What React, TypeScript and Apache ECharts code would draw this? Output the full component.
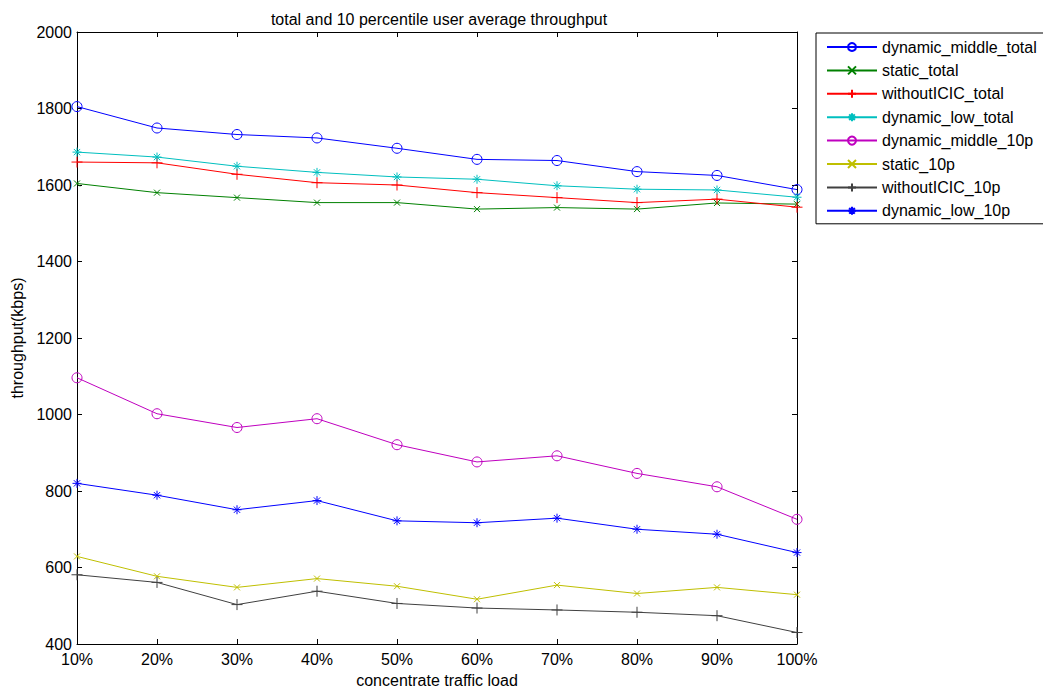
import React, { useEffect, useRef } from "react";
import * as echarts from "echarts";

const categories = ["10%", "20%", "30%", "40%", "50%", "60%", "70%", "80%", "90%", "100%"];

const dynamicMiddleTotal = [1805, 1749, 1732, 1723, 1696, 1667, 1664, 1635, 1625, 1588];
const staticTotal = [1604, 1580, 1567, 1554, 1554, 1537, 1541, 1537, 1553, 1550];
const withoutICICTotal = [1660, 1658, 1628, 1606, 1600, 1580, 1567, 1554, 1563, 1542];
const dynamicLowTotal = [1686, 1673, 1649, 1633, 1621, 1615, 1598, 1589, 1587, 1568];
const dynamicMiddle10p = [1096, 1002, 966, 989, 921, 876, 892, 846, 811, 726];
const static10p = [629, 577, 548, 571, 551, 517, 554, 532, 548, 529];
const withoutICIC10p = [581, 561, 503, 538, 506, 494, 489, 483, 474, 430];
const dynamicLow10p = [820, 789, 751, 775, 722, 717, 729, 700, 687, 639];

const seriesNames = [
  "dynamic_middle_total",
  "static_total",
  "withoutICIC_total",
  "dynamic_low_total",
  "dynamic_middle_10p",
  "static_10p",
  "withoutICIC_10p",
  "dynamic_low_10p",
];

const X_SYM = "path://M0,0L10,10M10,0L0,10";
const PLUS_SYM = "path://M5,0L5,10M0,5L10,5";
const STAR_SYM = "path://M5,0L5,10M0,5L10,5M1.5,1.5L8.5,8.5M8.5,1.5L1.5,8.5";

export default function App() {
  const ref = useRef<HTMLDivElement>(null);
  useEffect(() => {
    if (!ref.current) return;
    const chart = echarts.init(ref.current, undefined, { renderer: "svg" });
    const font = "Liberation Sans, Arial, sans-serif";
    const defs: [string, number[], string, string, number][] = [
      [seriesNames[0], dynamicMiddleTotal, "#0000ff", "circle", 10],
      [seriesNames[1], staticTotal, "#008000", X_SYM, 6],
      [seriesNames[2], withoutICICTotal, "#ff0000", PLUS_SYM, 11],
      [seriesNames[3], dynamicLowTotal, "#00bfbf", STAR_SYM, 9],
      [seriesNames[4], dynamicMiddle10p, "#bf00bf", "circle", 10],
      [seriesNames[5], static10p, "#bfbf00", X_SYM, 6],
      [seriesNames[6], withoutICIC10p, "#404040", PLUS_SYM, 11],
      [seriesNames[7], dynamicLow10p, "#0000ff", STAR_SYM, 9],
    ];
    const series = defs.map(([name, data, color, symbol, size]) => ({
      name,
      type: "line",
      data,
      symbol,
      symbolSize: size,
      showAllSymbol: true,
      color,
      lineStyle: { color, width: 1 },
      itemStyle: { color: "none", borderColor: color, borderWidth: 1 },
      emphasis: { disabled: true },
      z: 3,
    }));
    const axisLine = { show: true, lineStyle: { color: "#000", width: 1 } };
    chart.setOption({
      animation: false,
      backgroundColor: "#fff",
      textStyle: { fontFamily: font },
      title: {
        text: "total and 10 percentile user average throughput",
        left: 434,
        top: 6,
        textAlign: "center",
        textStyle: { fontSize: 16, fontWeight: "normal", color: "#000", fontFamily: font },
      },
      grid: { left: 77, top: 32, right: 246, bottom: 46 },
      legend: {
        orient: "vertical",
        left: 816,
        top: 33,
        padding: [6, 30, 5, 10],
        itemWidth: 50,
        itemHeight: 10,
        itemGap: 7.4,
        borderColor: "#000",
        borderWidth: 1,
        backgroundColor: "#fff",
        data: seriesNames,
        textStyle: { fontSize: 16, color: "#000", fontFamily: font, lineHeight: 16 },
      },
      xAxis: [
        {
          type: "category",
          data: categories,
          boundaryGap: false,
          axisLine,
          axisTick: { show: true, inside: true, length: 5, lineStyle: { color: "#000" } },
          axisLabel: { color: "#000", fontSize: 16, margin: 9, lineHeight: 12, fontFamily: font },
          splitLine: { show: false },
          name: "concentrate traffic load",
          nameLocation: "middle",
          nameGap: 28,
          nameTextStyle: { color: "#000", fontSize: 16, fontFamily: font },
        },
        {
          type: "category",
          data: categories,
          boundaryGap: false,
          position: "top",
          axisLine,
          axisTick: { show: true, inside: true, length: 5, lineStyle: { color: "#000" } },
          axisLabel: { show: false },
          splitLine: { show: false },
        },
      ],
      yAxis: [
        {
          type: "value",
          min: 400,
          max: 2000,
          interval: 200,
          axisLine,
          axisTick: { show: true, inside: true, length: 5, lineStyle: { color: "#000" } },
          axisLabel: {
            color: "#000",
            fontSize: 16,
            margin: 5,
            lineHeight: 12,
            fontFamily: font,
            formatter: (v: number) => String(v),
          },
          splitLine: { show: false },
          name: "throughput(kbps)",
          nameLocation: "middle",
          nameGap: 51,
          nameTextStyle: { color: "#000", fontSize: 16, fontFamily: font },
        },
        {
          type: "value",
          min: 400,
          max: 2000,
          interval: 200,
          position: "right",
          axisLine,
          axisTick: { show: true, inside: true, length: 5, lineStyle: { color: "#000" } },
          axisLabel: { show: false },
          splitLine: { show: false },
        },
      ],
      series,
    });
    return () => chart.dispose();
  }, []);
  return (
    <div
      ref={ref}
      style={{ position: "fixed", left: 0, top: 0, width: 1043, height: 693, background: "#fff" }}
    />
  );
}
